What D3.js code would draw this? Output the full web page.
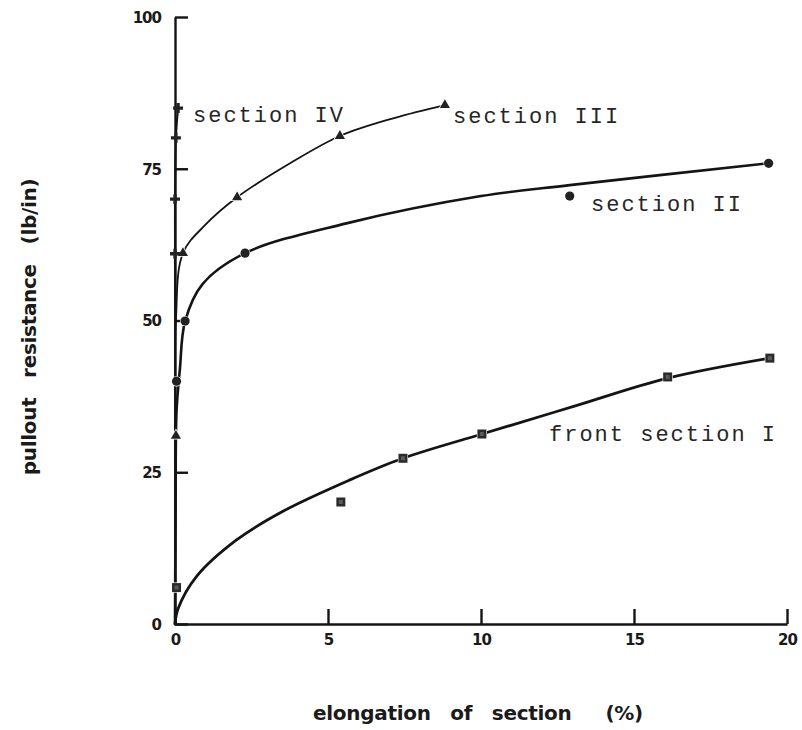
<!DOCTYPE html>
<html>
<head>
<meta charset="utf-8">
<script src="https://cdn.jsdelivr.net/npm/d3@7"></script>
<style>
  html, body { margin: 0; padding: 0; background: #ffffff; }
  svg { display: block; }
  .tick-label { font-family: "DejaVu Sans", sans-serif; font-weight: bold; font-size: 15px; fill: #1a1a1a; letter-spacing: -1px; }
  .axis-title { font-family: "DejaVu Sans", sans-serif; font-weight: bold; font-size: 20px; fill: #1a1a1a; letter-spacing: -0.3px; }
  .series-label { font-family: "Liberation Mono", "Courier New", monospace; font-size: 22px; fill: #262626; letter-spacing: 2px; }
</style>
</head>
<body>
<script>
// Axis ticks
const xTicks = [0, 5, 10, 15, 20];
const yTicks = [0, 25, 50, 75, 100];

// Measured points (elongation %, pullout resistance lb/in)
const sectionIPoints   = [[0.05, 6], [5.42, 20.1], [7.45, 27.3], [10.03, 31.3], [16.1, 40.7], [19.44, 43.8]];
const sectionIIPoints  = [[0.05, 40], [0.33, 49.9], [2.29, 61.1], [12.9, 70.5], [19.4, 75.9]];
const sectionIIIPoints = [[0.03, 31], [0.26, 61.1], [2.03, 70.3], [5.39, 80.4], [8.82, 85.5]];
const sectionIVPoints  = [[0, 61], [0, 70], [0.03, 80.1], [0.1, 85]];

// Smoothed trend curves drawn through the measurements
const sectionICurve   = [[0, 0], [0.1, 2.5], [0.7, 7.8], [2, 13.8], [3.5, 18.5], [5.7, 23.7], [7.45, 27.3], [10.03, 31.3], [13, 35.8], [16.1, 40.5], [19.44, 43.8]];
const sectionIICurve  = [[0, 0], [0.02, 20], [0.05, 35], [0.16, 42], [0.33, 49.9], [0.9, 56], [2.29, 61.1], [5.6, 66], [10, 70.5], [12.9, 72.3], [19.4, 75.9]];
const sectionIIICurve = [[0, 0], [0.01, 25], [0.03, 50], [0.26, 61.1], [0.98, 65.7], [2.03, 70.3], [3.76, 75.9], [5.39, 80.4], [7.19, 83.4], [8.82, 85.5]];
const sectionIVCurve  = [[0, 0], [0, 40], [0, 61], [0, 70], [0.03, 80.1], [0.1, 85]];

const seriesNames = ["section IV", "section III", "section II", "front section I"];

const W = 802, H = 730;
const svg = d3.select("body").append("svg").attr("width", W).attr("height", H);

const x = d3.scaleLinear().domain([0, 20]).range([175, 787]);
const y = d3.scaleLinear().domain([0, 100]).range([624, 17]);

const ink = "#141414";

// Axes with inward ticks
const xAxis = d3.axisBottom(x).tickValues(xTicks).tickSize(-15).tickSizeOuter(0).tickPadding(10);
const yAxis = d3.axisLeft(y).tickValues(yTicks).tickSize(-13).tickSizeOuter(0).tickPadding(14);

const gx = svg.append("g").attr("transform", `translate(0,${y(0)})`).call(xAxis);
const gy = svg.append("g").attr("transform", `translate(${x(0)},0)`).call(yAxis);

[gx, gy].forEach(g => {
  g.select(".domain").attr("stroke", ink).attr("stroke-width", 2.4);
  g.selectAll(".tick line").attr("stroke", ink).attr("stroke-width", 2.4);
  g.selectAll(".tick text").attr("class", "tick-label").attr("fill", ink);
});
gy.selectAll(".tick text").attr("dy", "0.35em");

// Curves
const line = d3.line()
  .x(d => x(d[0]))
  .y(d => y(d[1]))
  .curve(d3.curveCatmullRom.alpha(0.5));

const curves = [
  { data: sectionICurve, w: 2.8 },
  { data: sectionIICurve, w: 2.6 },
  { data: sectionIIICurve, w: 1.8 },
  { data: sectionIVCurve, w: 2.0 }
];
svg.append("g").selectAll("path").data(curves).join("path")
  .attr("d", d => line(d.data))
  .attr("fill", "none")
  .attr("stroke", ink)
  .attr("stroke-width", d => d.w)
  .attr("stroke-linejoin", "round")
  .attr("stroke-linecap", "round");

// Markers
const mk = svg.append("g");
mk.selectAll("rect.sq").data(sectionIPoints).join("rect")
  .attr("class", "sq")
  .attr("x", d => x(d[0]) - 4.5).attr("y", d => y(d[1]) - 4.5)
  .attr("width", 9).attr("height", 9)
  .attr("fill", "#2b2b2b").attr("stroke", "#ffffff").attr("stroke-width", 1.2)
  .attr("paint-order", "stroke");
mk.selectAll("rect.sqi").data(sectionIPoints).join("rect")
  .attr("class", "sqi")
  .attr("x", d => x(d[0]) - 2).attr("y", d => y(d[1]) - 2)
  .attr("width", 4).attr("height", 4)
  .attr("fill", "#5a5a5a");

mk.selectAll("circle").data(sectionIIPoints).join("circle")
  .attr("cx", d => x(d[0])).attr("cy", d => y(d[1]))
  .attr("r", 4.6)
  .attr("fill", "#222").attr("stroke", "#ffffff").attr("stroke-width", 1.2)
  .attr("paint-order", "stroke");

const tri = d3.symbol().type(d3.symbolTriangle).size(45);
mk.selectAll("path.tri").data(sectionIIIPoints).join("path")
  .attr("class", "tri")
  .attr("d", tri)
  .attr("transform", d => `translate(${x(d[0])},${y(d[1])})`)
  .attr("fill", "#222").attr("stroke", "#ffffff").attr("stroke-width", 1.5)
  .attr("paint-order", "stroke");

const plus = d3.symbol().type(d3.symbolCross).size(55);
mk.selectAll("path.plus").data(sectionIVPoints).join("path")
  .attr("class", "plus")
  .attr("d", plus)
  .attr("transform", d => `translate(${x(d[0])},${y(d[1])})`)
  .attr("fill", "#222");

// Series labels
const labelPos = [
  { x: 193, y: 122 },
  { x: 453, y: 123 },
  { x: 591, y: 211 },
  { x: 549, y: 441 }
];
svg.append("g").selectAll("text").data(seriesNames).join("text")
  .attr("class", "series-label")
  .attr("x", (d, i) => labelPos[i].x)
  .attr("y", (d, i) => labelPos[i].y)
  .text(d => d);

// Axis titles
svg.append("text")
  .attr("class", "axis-title")
  .attr("transform", "translate(36,327) rotate(-90)")
  .attr("text-anchor", "middle")
  .attr("word-spacing", "13px")
  .text("pullout resistance (lb/in)");

const xt = svg.append("text")
  .attr("class", "axis-title")
  .attr("x", 313).attr("y", 720)
  .attr("word-spacing", "13px");
xt.append("tspan").text("elongation of section");
xt.append("tspan").attr("dx", 34).text("(%)");
</script>
</body>
</html>
